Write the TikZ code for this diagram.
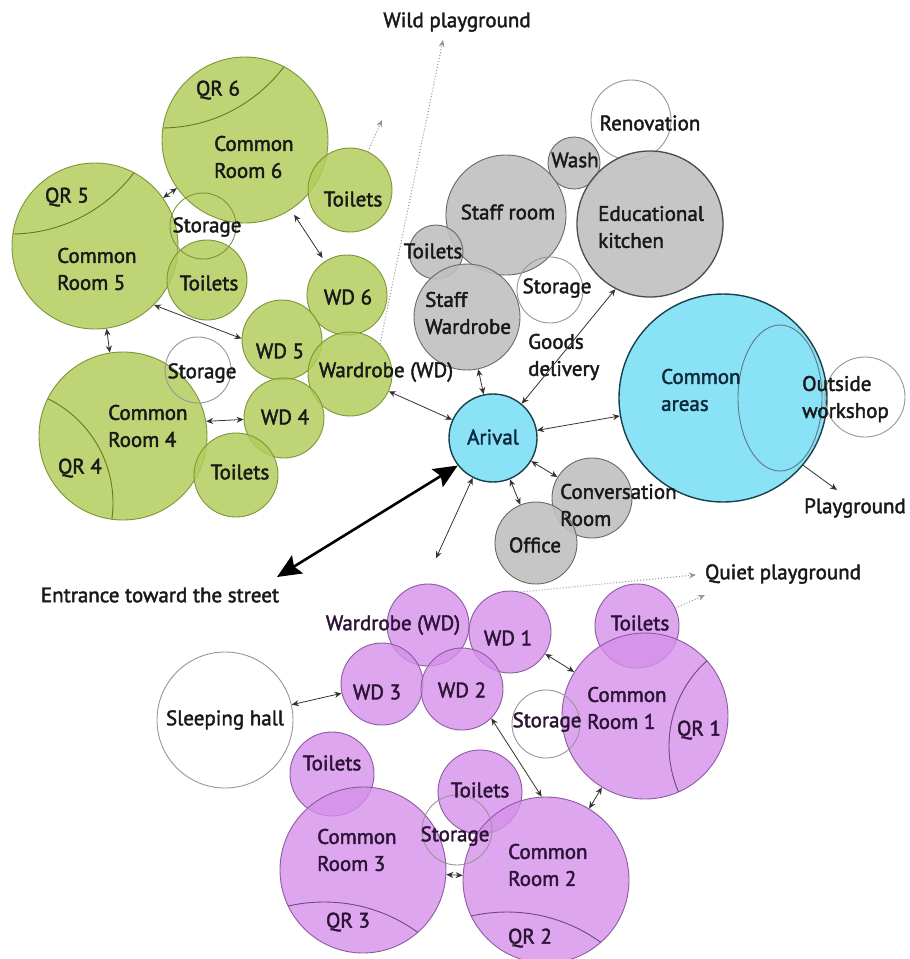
\documentclass[tikz,border=0pt]{standalone}
\usepackage{fontspec}
\setmainfont{PT Sans}
\newfontfamily\lblfont{PT Sans}[FakeBold=2]
\usetikzlibrary{arrows.meta}
\definecolor{gF}{RGB}{180,204,92}
\definecolor{gD}{RGB}{125,150,55}
\definecolor{pF}{RGB}{212,144,234}
\definecolor{pD}{RGB}{140,90,160}
\definecolor{yF}{RGB}{192,192,192}
\definecolor{yD}{RGB}{105,105,105}
\definecolor{cF}{RGB}{138,226,246}
\definecolor{cD}{RGB}{25,65,75}
\definecolor{oD}{RGB}{150,150,150}
\definecolor{aC}{RGB}{50,50,50}
\definecolor{pT}{RGB}{45,20,55}
\definecolor{cT}{RGB}{15,40,60}
\begin{document}
\begin{tikzpicture}[x=1pt,y=-1pt,
  room/.style={circle, inner sep=0pt, minimum size=#1},
  grn/.style={room=#1, fill=gF, fill opacity=0.85, draw=gD, line width=0.9pt},
  pur/.style={room=#1, fill=pF, fill opacity=0.8, draw=pD, line width=0.9pt},
  gry/.style={room=#1, fill=yF, fill opacity=0.9, draw=yD, line width=0.9pt},
  cya/.style={room=#1, fill=cF, draw=cD, line width=1.4pt},
  emp/.style={room=#1, draw=oD, line width=0.9pt},
  lbl/.style={font=\lblfont\fontsize{21}{27}\selectfont, text=black!90, inner sep=0pt, align=left},
  lw/.style={lbl, anchor=west},
  plbl/.style={lbl, text=pT},
  pw/.style={lw, text=pT},
  clbl/.style={lbl, text=cT},
  cw/.style={lw, text=cT},
  link/.style={draw=aC, line width=0.8pt, {Stealth[length=7pt,width=6pt]}-{Stealth[length=7pt,width=6pt]}},
  oneway/.style={draw=aC, line width=0.8pt, -{Stealth[length=7pt,width=6pt]}},
  dotarr/.style={draw=oD, line width=1pt, dotted, -{Stealth[length=7pt,width=6pt]}},
  entr/.style={draw=black, line width=2.6pt, {Stealth[length=24pt,width=21pt,inset=4pt]}-{Stealth[length=24pt,width=21pt,inset=4pt]}},
  qr/.style={line width=0.9pt}
]
\useasboundingbox (0,0) rectangle (910,959);

% ---------- green wing ----------
\node[grn=166pt] (cr6) at (245,140) {};
\node[grn=84pt]  (t6)  at (350,190) {};
\node[grn=166pt] (cr5) at (95,246) {};
\node[grn=80pt]  (t5)  at (207,280) {};
\node[grn=80pt]  (wd6) at (347,295) {};
\node[grn=80pt]  (wd5) at (282,340) {};
\node[grn=84pt]  (wdg) at (350,374) {};
\node[grn=80pt]  (wd4) at (284,418) {};
\node[grn=168pt] (cr4) at (123,436) {};
\node[grn=84pt]  (t4)  at (236,475) {};
\node[emp=66pt, draw=gD] (st5) at (203,226) {};
\node[emp=66pt]  (st4) at (198,370) {};
\begin{scope}
  \clip (245,140) circle (83pt);
  \draw[qr, draw=gD!80!black] (161,-26) circle (154pt);
\end{scope}
\begin{scope}
  \clip (95,246) circle (83pt);
  \draw[qr, draw=gD!80!black] (11,80) circle (154pt);
\end{scope}
\begin{scope}
  \clip (123,436) circle (84pt);
  \draw[qr, draw=gD!80!black] (-3,503) circle (116pt);
\end{scope}

% ---------- grey staff wing ----------
\node[emp=80pt]  (ren)  at (631,120) {};
\node[gry=52pt]  (wash) at (574,163) {};
\node[gry=120pt] (sr)   at (506,215) {};
\node[gry=146pt, draw=yD!70!black, line width=1.3pt] (ek) at (650,224) {};
\node[gry=54pt]  (tg)   at (436,252) {};
\node[gry=106pt] (sw)   at (467,317) {};
\node[emp=66pt]  (stg)  at (550,290) {};
\node[gry=80pt]  (conv) at (592,498) {};
\node[gry=82pt]  (off)  at (536,543) {};

% ---------- cyan ----------
\node[cya=208pt] (ca)  at (723,398) {};
\draw[draw=cD!70, line width=0.9pt] (780,398) ellipse [x radius=42pt, y radius=73pt];
\node[emp=80pt]  (ow)  at (865,397) {};
\node[cya=88pt]  (arr) at (493,438) {};

% ---------- purple wing ----------
\node[pur=82pt]  (pwd) at (428,625) {};
\node[pur=82pt]  (wd1) at (510,632) {};
\node[pur=82pt]  (wd3) at (382,684) {};
\node[pur=82pt]  (wd2) at (462,689) {};
\node[pur=84pt]  (t1)  at (637,626) {};
\node[pur=166pt] (cr1) at (645,716) {};
\node[pur=84pt]  (t3)  at (332,774) {};
\node[pur=166pt] (cr3) at (363,870) {};
\node[pur=84pt]  (t2)  at (480,792) {};
\node[pur=166pt] (cr2) at (546,880) {};
\node[emp=68pt]  (st1) at (546,724) {};
\node[emp=136pt] (sh)  at (225,720) {};
\node[emp=70pt]  (st2) at (457,830) {};
\begin{scope}
  \clip (645,716) circle (83pt);
  \draw[qr, draw=pD!80!black] (784,746) circle (115pt);
\end{scope}
\begin{scope}
  \clip (363,870) circle (83pt);
  \draw[qr, draw=pD!80!black] (324,1062) circle (160pt);
\end{scope}
\begin{scope}
  \clip (546,880) circle (83pt);
  \draw[qr, draw=pD!80!black] (507,1072) circle (160pt);
\end{scope}

% ---------- labels ----------
\node[lbl] (l-qr6) at (218,90) {QR 6};
\node[lw]  (l-cr6) at (214,157) {Common\\Room 6};
\node[lbl] (l-t6)  at (353,199) {Toilets};
\node[lbl] (l-qr5) at (67,197) {QR 5};
\node[lw]  (l-cr5) at (57,269) {Common\\Room 5};
\node[lbl] (l-st5) at (207,227) {Storage};
\node[lbl] (l-t5)  at (209,283) {Toilets};
\node[lbl] (l-wd6) at (348,297) {WD 6};
\node[lbl] (l-wd5) at (280,351) {WD 5};
\node[lbl] (l-wdg) at (386,372) {Wardrobe (WD)};
\node[lbl] (l-wd4) at (285,417) {WD 4};
\node[lw]  (l-cr4) at (108,426) {Common\\Room 4};
\node[lbl] (l-qr4) at (80,468) {QR 4};
\node[lbl] (l-st4) at (202,373) {Storage};
\node[lbl] (l-t4)  at (240,472) {Toilets};

\node[lbl] (l-ren)  at (650,123) {Renovation};
\node[lbl] (l-wash) at (575,160) {Wash};
\node[lbl] (l-sr)   at (508,212) {Staff room};
\node[lw]  (l-ek)   at (598,227) {Educational\\kitchen};
\node[lbl] (l-tg)   at (433,251) {Toilets};
\node[lw]  (l-sw)   at (425,313) {Staff\\Wardrobe};
\node[lbl] (l-stg)  at (557,288) {Storage};
\node[lw]  (l-gd)   at (528,357) {Goods\\delivery};
\node[lw]  (l-conv) at (560,505) {Conversation\\Room};
\node[lbl] (l-off)  at (535,545) {Office};
\node[clbl] (l-arr) at (493,437) {Arival};
\node[cw]  (l-ca)   at (661,390) {Common\\areas};
\node[lw]  (l-ow)   at (802,399) {Outside\\workshop};
\node[lbl] (pg)     at (855,508) {Playground};
\node[lbl] (wild)   at (457,22)  {Wild playground};
\node[lbl] (entl)   at (160,595) {Entrance toward the street};
\node[lbl] (quiet)  at (783,574) {Quiet playground};

\node[plbl] (l-pwd) at (393,625) {Wardrobe (WD)};
\node[plbl] (l-wd1) at (508,638) {WD 1};
\node[plbl] (l-wd3) at (377,692) {WD 3};
\node[plbl] (l-wd2) at (462,690) {WD 2};
\node[plbl] (l-t1)  at (640,623) {Toilets};
\node[pw]   (l-cr1) at (587,708) {Common\\Room 1};
\node[plbl] (l-qr1) at (699,730) {QR 1};
\node[plbl] (l-st1) at (547,722) {Storage};
\node[lbl]  (l-sh)  at (225,720) {Sleeping hall};
\node[plbl] (l-t3)  at (332,763) {Toilets};
\node[pw]   (l-cr3) at (317,850) {Common\\Room 3};
\node[plbl] (l-qr3) at (348,922) {QR 3};
\node[plbl] (l-t2)  at (480,790) {Toilets};
\node[plbl] (l-st2) at (455,836) {Storage};
\node[pw]   (l-cr2) at (508,865) {Common\\Room 2};
\node[plbl] (l-qr2) at (530,938) {QR 2};

% ---------- free arrow ends ----------
\coordinate (pgtip)   at (837,490);
\coordinate (entip)   at (277,577);
\coordinate (t6tip)   at (382,120);
\coordinate (wildtip) at (443,40);
\coordinate (qtip)    at (705,595);

% ---------- connectors ----------
\draw[link] (cr6) -- (cr5);
\draw[link, shorten <=6pt, shorten >=4pt] (cr6) -- (wd6);
\draw[link] (cr5.-45) -- (wd5.178);
\draw[link] (cr5.-82) -- (cr4.99);
\draw[link] (cr4.10) -- (wd4.182);
\draw[link] (wdg) -- (arr);
\draw[link] (sw) -- (arr);
\draw[link] (ek.-118) -- (arr.50);
\draw[link] (arr) -- (ca);
\draw[oneway] (ca.-40) -- (pgtip);
\draw[link] (arr) -- (conv);
\draw[link] (arr) -- (off);
\draw[link, shorten >=28pt] (arr.-117) -- (pwd.95);
\draw[entr] (arr.-142) -- (entip);
\draw[link] (sh) -- (wd3);
\draw[link] (wd1) -- (cr1);
\draw[link] (wd2.-45) -- (cr2.93);
\draw[link] (cr1) -- (cr2);
\draw[link] (cr3) -- (cr2);
\draw[dotarr] (t6.65) -- (t6tip);
\draw[dotarr] (wdg.45) -- (wildtip);
\draw[dotarr, shorten >=9pt] (wd1.75) -- (quiet.west);
\draw[dotarr] (t1.25) -- (qtip);
\end{tikzpicture}
\end{document}
